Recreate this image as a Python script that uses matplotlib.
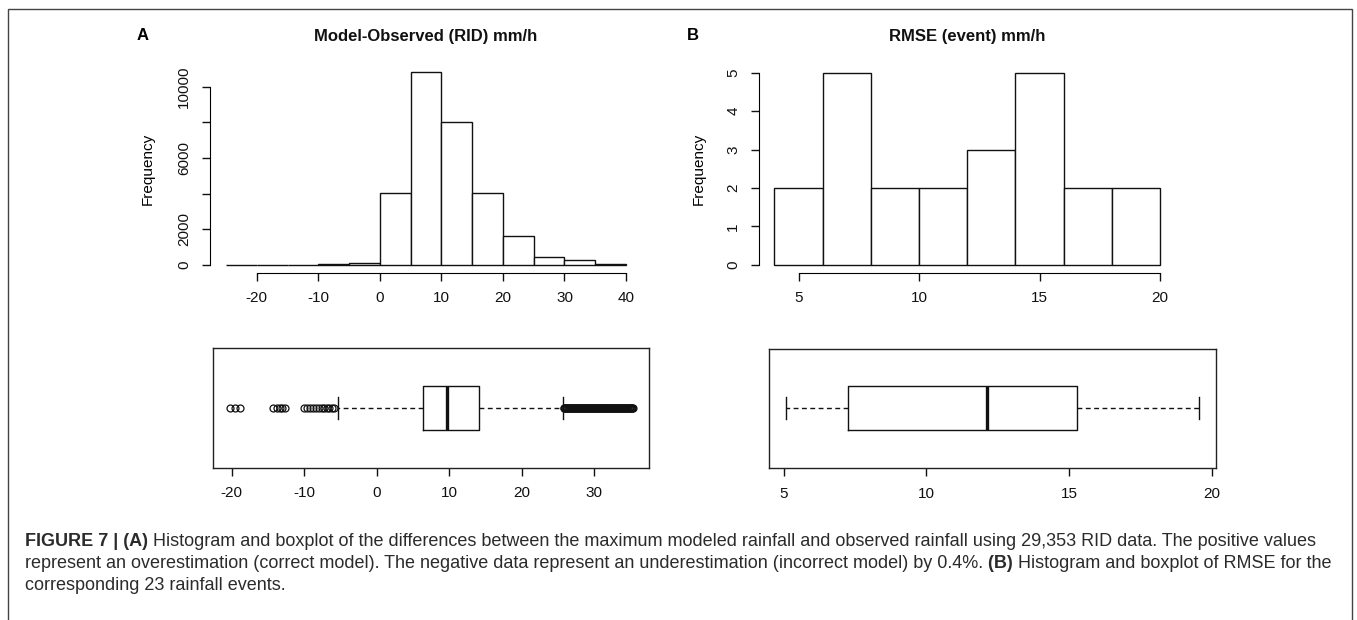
import matplotlib
matplotlib.use("Agg")
import matplotlib.pyplot as plt
from matplotlib.patches import Rectangle
import numpy as np

plt.rcParams['font.family'] = ['Liberation Sans', 'DejaVu Sans']
plt.rcParams['axes.unicode_minus'] = False

# datos del panel A (Model - Observed, RID)
rid_edges = [-25, -20, -15, -10, -5, 0, 5, 10, 15, 20, 25, 30, 35, 40]
rid_counts = [2, 4, 10, 45, 110, 4060, 10800, 8030, 4060, 1620, 430, 280, 55]
rid_xticks = [-20, -10, 0, 10, 20, 30, 40]
rid_yticks = [0, 2000, 4000, 6000, 8000, 10000]
rid_ylabels = ['0', '2000', '', '6000', '', '10000']

rid_q1 = 6.36
rid_med = 9.76
rid_q3 = 14.13
rid_whislo = -5.28
rid_whishi = 25.76
rid_low_out = [-20.2, -19.5, -18.8, -14.3, -13.7, -13.3, -13.0, -12.7,
               -10.0, -9.6, -9.2, -8.8, -8.4, -8.0, -7.6, -7.2, -6.9, -6.6, -6.2, -5.9]
rid_high_out = [25.8, 25.9, 26.0, 26.1, 26.2, 26.3, 26.4, 26.5, 26.6, 26.7,
                26.8, 26.9, 27.0, 27.1, 27.2, 27.3, 27.4, 27.5, 27.6, 27.7,
                27.8, 27.9, 28.0, 28.1, 28.2, 28.3, 28.4, 28.5, 28.6, 28.7,
                28.8, 28.9, 29.0, 29.1, 29.2, 29.3, 29.4, 29.5, 29.6, 29.7,
                29.8, 29.9, 30.0, 30.1, 30.2, 30.3, 30.4, 30.5, 30.6, 30.7,
                30.8, 30.9, 31.0, 31.1, 31.2, 31.3, 31.4, 31.5, 31.6, 31.7,
                31.8, 31.9, 32.0, 32.1, 32.2, 32.3, 32.4, 32.5, 32.6, 32.7,
                32.8, 32.9, 33.0, 33.1, 33.2, 33.3, 33.4, 33.5, 33.6, 33.7,
                33.8, 33.9, 34.0, 34.1, 34.2, 34.3, 34.4, 34.5, 34.6, 34.7,
                34.8, 34.9, 35.0, 35.1, 35.2, 35.3, 35.4]
rid_box_ticks = [-20, -10, 0, 10, 20, 30]

# datos del panel B (RMSE por evento)
rmse_edges = [4, 6, 8, 10, 12, 14, 16, 18, 20]
rmse_counts = [2, 5, 2, 2, 3, 5, 2, 2]
rmse_xticks = [5, 10, 15, 20]
rmse_yticks = [0, 1, 2, 3, 4, 5]

rmse_q1 = 7.24
rmse_med = 12.12
rmse_q3 = 15.27
rmse_whislo = 5.07
rmse_whishi = 19.57
rmse_box_ticks = [5, 10, 15, 20]

W, H = 1357, 620
fig = plt.figure(figsize=(W / 100, H / 100), dpi=100)
fig.patch.set_facecolor('white')


def px_axes(l, t, r, b):
    return fig.add_axes([l / W, 1 - b / H, (r - l) / W, (b - t) / H])


def tick_style(ax):
    ax.tick_params(direction='out', length=5.5, width=1, labelsize=11, pad=8, colors='#111')


def histograma(ax, edges, counts, xticks, yticks, ylabels, xlim, ylim):
    ax.bar(edges[:-1], counts, width=np.diff(edges), align='edge',
           facecolor='white', edgecolor='#111', linewidth=1)
    ax.set_xlim(*xlim)
    ax.set_ylim(*ylim)
    for s in ['top', 'right']:
        ax.spines[s].set_visible(False)
    ax.spines['left'].set_bounds(yticks[0], yticks[-1])
    ax.spines['bottom'].set_bounds(xticks[0], xticks[-1])
    ax.set_xticks(xticks)
    ax.set_xticklabels([str(t) for t in xticks])
    ax.set_yticks(yticks)
    ax.set_yticklabels(ylabels)
    tick_style(ax)
    ax.tick_params(axis='y', labelrotation=90)
    for lab in ax.get_yticklabels():
        lab.set_va('center')
    ax.set_ylabel('Frequency', fontsize=11)
    ax.yaxis.set_label_coords(-0.127, 0.5)


def caja(ax, stats, ticks, xlim):
    ax.bxp([stats], orientation='horizontal', positions=[0.5], widths=0.37, capwidths=0.185,
           boxprops=dict(color='#111', linewidth=1),
           whiskerprops=dict(color='#111', linewidth=1, linestyle=(0, (3.5, 2.5))),
           capprops=dict(color='#111', linewidth=1),
           medianprops=dict(color='#111', linewidth=2.4),
           flierprops=dict(marker='o', markerfacecolor='none', markeredgecolor='#111',
                           markersize=5, markeredgewidth=0.9, linestyle='none'))
    ax.set_xlim(*xlim)
    ax.set_ylim(0, 1)
    ax.set_yticks([])
    ax.set_xticks(ticks)
    ax.set_xticklabels([str(t) for t in ticks])
    for s in ax.spines.values():
        s.set_color('#222')
        s.set_linewidth(1)
    tick_style(ax)


# Panel A
hist_a = px_axes(210, 64.6, 642, 272.6)
histograma(hist_a, rid_edges, rid_counts, rid_xticks, rid_yticks, rid_ylabels,
           (-27.6, 42.6), (-432, 11239))

box_a = px_axes(213.3, 348, 649, 467.5)
stats_a = dict(med=rid_med, q1=rid_q1, q3=rid_q3, whislo=rid_whislo, whishi=rid_whishi,
               fliers=rid_low_out + rid_high_out)
caja(box_a, stats_a, rid_box_ticks, (-22.53, 37.59))

# Panel B
hist_b = px_axes(759, 65, 1175.5, 272.6)
histograma(hist_b, rmse_edges, rmse_counts, rmse_xticks, rmse_yticks,
           [str(t) for t in rmse_yticks], (3.36, 20.64), (-0.2, 5.2))

box_b = px_axes(769.3, 348.5, 1215.7, 468)
stats_b = dict(med=rmse_med, q1=rmse_q1, q3=rmse_q3, whislo=rmse_whislo, whishi=rmse_whishi,
               fliers=[])
caja(box_b, stats_b, rmse_box_ticks, (4.495, 20.14))

# titulos y letras de panel
fig.text(426 / W, 1 - 37 / H, 'Model-Observed (RID) mm/h', ha='center', va='center',
         fontsize=12, fontweight='bold', color='#111')
fig.text(967 / W, 1 - 37 / H, 'RMSE (event) mm/h', ha='center', va='center',
         fontsize=12, fontweight='bold', color='#111')
fig.text(142.5 / W, 1 - 36 / H, 'A', ha='center', va='center', fontsize=12, fontweight='bold')
fig.text(693 / W, 1 - 36 / H, 'B', ha='center', va='center', fontsize=12, fontweight='bold')

# marco exterior
fig.add_artist(Rectangle((7.5 / W, -0.02), (1351.5 - 7.5) / W, 1 - 9 / H + 0.02,
                         transform=fig.transFigure, fill=False, edgecolor='#444', linewidth=1))

# pie de figura, mezclando negrita y normal
cap_ax = fig.add_axes([0, 0, 1, 1])
cap_ax.axis('off')
cap_ax.set_xlim(0, 1)
cap_ax.set_ylim(0, 1)

lineas = [
    [('FIGURE 7 | (A)', 'bold'),
     (' Histogram and boxplot of the differences between the maximum modeled rainfall and observed rainfall using 29,353 RID data. The positive values', 'normal')],
    [('represent an overestimation (correct model). The negative data represent an underestimation (incorrect model) by 0.4%.', 'normal'),
     (' (B)', 'bold'),
     (' Histogram and boxplot of RMSE for the', 'normal')],
    [('corresponding 23 rainfall events.', 'normal')],
]
ys = [541.7, 563.5, 585]
for partes, y in zip(lineas, ys):
    prev = None
    for txt, peso in partes:
        if prev is None:
            prev = cap_ax.text(25 / W, 1 - y / H, txt, ha='left', va='center',
                               fontsize=13, fontweight=peso, color='#2b2b2b')
        else:
            prev = cap_ax.annotate(txt, xy=(1, 0), xycoords=prev, ha='left', va='bottom',
                                   fontsize=13, fontweight=peso, color='#2b2b2b')

fig.savefig('out.png', dpi=100)
